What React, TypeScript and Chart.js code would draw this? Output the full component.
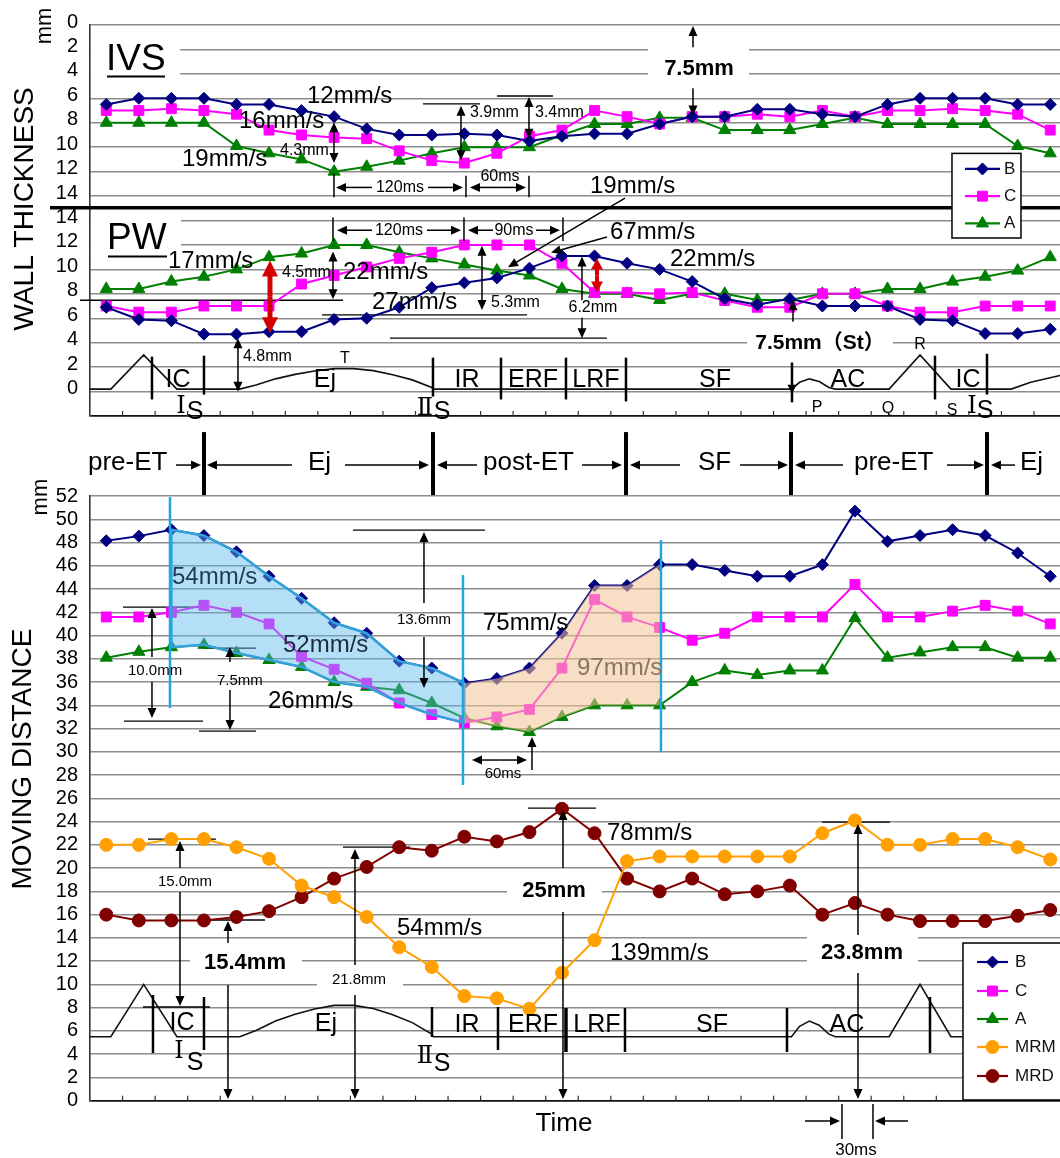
import React, { useEffect, useRef } from "react";
import { Chart, registerables } from "chart.js";
import { drawPoint } from "chart.js/helpers";
Chart.register(...registerables);

const FONT = '"Liberation Sans", Arial, Helvetica, sans-serif';
const FONT_CJK = '"Liberation Sans", "Noto Sans CJK JP", Arial, sans-serif';
const FONT_ROMAN = '"DejaVu Serif", "DejaVu Sans", serif';

// sample index along the cardiac cycle
const timeIdx = [0, 1, 2, 3, 4, 5, 6, 7, 8, 9, 10, 11, 12, 13, 14, 15, 16, 17, 18, 19, 20, 21, 22, 23, 24, 25, 26, 27, 28, 29];

// WALL THICKNESS (mm) – IVS
const ivsB = [6.5, 6, 6, 6, 6.5, 6.5, 7, 7.5, 8.5, 9, 9, 8.9, 9, 9.5, 9.1, 8.9, 8.9, 8.1, 7.5, 7.5, 6.9, 6.9, 7.3, 7.5, 6.5, 6, 6, 6, 6.5, 6.5];
const ivsC = [7.0, 7.0, 6.85, 7.0, 7.3, 8.6, 9.0, 9.2, 9.3, 10.3, 11.1, 11.3, 10.5, 9.1, 8.6, 7.0, 7.5, 8.1, 7.5, 7.5, 7.3, 7.5, 7.0, 7.5, 7.0, 7.0, 6.85, 7.0, 7.3, 8.6];
const ivsA = [8, 8, 8, 8, 9.9, 10.5, 11, 12, 11.6, 11.1, 10.5, 10, 10, 10, 9, 8.1, 8.1, 7.6, 7.6, 8.6, 8.6, 8.6, 8.1, 7.6, 8.1, 8.1, 8.1, 8.1, 9.9, 10.5];
// WALL THICKNESS (mm) – PW
const pwB = [6.9, 5.9, 5.8, 4.7, 4.7, 4.9, 4.9, 5.9, 6.0, 6.9, 8.5, 8.9, 9.3, 10.1, 11.1, 11.1, 10.5, 10.0, 9.0, 7.6, 7.1, 7.6, 7.0, 7.0, 7.0, 5.9, 5.8, 4.75, 4.75, 5.1];
const pwC = [7.0, 6.5, 6.5, 7.0, 7.0, 7.0, 8.8, 9.5, 10.2, 10.9, 11.4, 12.0, 12.0, 12.0, 10.5, 8.1, 8.1, 8.0, 8.1, 7.45, 6.9, 6.9, 8.0, 8.0, 7.0, 6.5, 6.5, 7.0, 7.0, 7.0];
const pwA = [8.4, 8.4, 9.0, 9.4, 10.0, 11.0, 11.3, 12.0, 12.0, 11.4, 10.9, 10.4, 9.9, 9.5, 8.4, 8.0, 8.0, 7.5, 8.0, 8.0, 7.5, 7.5, 8.0, 8.0, 8.4, 8.4, 9.0, 9.4, 9.9, 11.0];

// MOVING DISTANCE (mm)
const mdB = [48.15, 48.55, 49.1, 48.6, 47.2, 45.1, 43.2, 41.1, 40.2, 37.8, 37.2, 35.9, 36.3, 37.2, 40.2, 44.3, 44.3, 46.1, 46.1, 45.6, 45.1, 45.1, 46.1, 50.7, 48.1, 48.6, 49.1, 48.6, 47.1, 45.1];
const mdC = [41.6, 41.6, 42.0, 42.6, 42.0, 41.0, 38.2, 37.1, 35.9, 34.2, 33.2, 32.5, 33.0, 33.65, 37.2, 43.1, 41.6, 40.7, 39.6, 40.2, 41.6, 41.6, 41.6, 44.4, 41.6, 41.6, 42.1, 42.6, 42.1, 41.0];
const mdA = [38.1, 38.6, 39.0, 39.2, 38.5, 37.9, 37.3, 36.0, 35.6, 35.3, 34.2, 32.9, 32.2, 31.7, 33.0, 34.0, 34.0, 34.0, 36.0, 37.0, 36.6, 37.0, 37.0, 41.5, 38.1, 38.55, 39.0, 39.0, 38.1, 38.1];
const mrm = [22.0, 22.0, 22.5, 22.5, 21.8, 20.8, 18.5, 17.5, 15.8, 13.2, 11.5, 9.0, 8.8, 7.9, 11.0, 13.8, 20.6, 21.0, 21.0, 21.0, 21.0, 21.0, 23.0, 24.1, 22.0, 22.0, 22.5, 22.5, 21.8, 20.75];
const mrd = [16.0, 15.5, 15.5, 15.5, 15.8, 16.3, 17.5, 19.1, 20.1, 21.8, 21.5, 22.7, 22.3, 23.1, 25.1, 23.0, 19.1, 18.0, 19.1, 17.75, 18.0, 18.5, 16.0, 17.0, 16.0, 15.45, 15.45, 15.45, 15.9, 16.4];

// ECG schematic (position in sample units, relative amplitude R = 1)
const ecgPos = [-0.5, 0.14, 1.15, 2.17, 4.1, 4.6, 5.2, 5.8, 6.4, 7.0, 7.6, 8.2, 8.8, 9.4, 10.0, 10.05, 21.05, 21.3, 21.6, 21.9, 22.2, 22.4, 24.05, 25.0, 25.95, 27.8, 28.4, 29.0, 29.3];
const ecgAmp = [0, 0, 1, 0, 0, 0.12, 0.3, 0.43, 0.53, 0.6, 0.6, 0.54, 0.42, 0.27, 0.05, 0, 0, 0.2, 0.3, 0.22, 0.05, 0, 0, 1, 0, 0, 0.2, 0.33, 0.4];

const COLORS = { B: "#000080", C: "#ff00ff", A: "#008000", MRM: "#ffa000", MRD: "#800000" };
const STYLE: any = {
  B: { pointStyle: "rectRot", r: 6 },
  C: { pointStyle: "rect", r: 7 },
  A: { pointStyle: "triangle", r: 7 },
  MRM: { pointStyle: "circle", r: 6.5 },
  MRD: { pointStyle: "circle", r: 6.5 },
};

function series(name: string, vals: number[], map: (v: number) => number) {
  const c = (COLORS as any)[name];
  return {
    label: name,
    data: vals.map((v, i) => ({ x: timeIdx[i], y: map(v) })),
    borderColor: c,
    backgroundColor: c,
    borderWidth: 2,
    pointStyle: STYLE[name].pointStyle,
    pointRadius: STYLE[name].r,
    pointBorderWidth: 1,
    tension: 0,
  };
}

function ecgSet(base: number, amp: number) {
  return {
    label: "ECG",
    data: ecgPos.map((x, i) => ({ x, y: base + amp * ecgAmp[i] })),
    borderColor: "#111",
    borderWidth: 1.6,
    pointRadius: 0,
    tension: 0,
  };
}

function tools(chart: any, invY: (y: number) => number) {
  const ctx: CanvasRenderingContext2D = chart.ctx;
  const xs = chart.scales.x;
  const ys = chart.scales.y;
  const X = (x: number) => xs.getPixelForValue((x - 106.3) / 32.55);
  const Y = (y: number) => ys.getPixelForValue(invY(y));
  const font = (size: number, bold = false, fam = FONT) => `${bold ? "bold " : ""}${size}px ${fam}`;
  function line(x1: number, y1: number, x2: number, y2: number, w = 1.3, c = "#000") {
    ctx.save();
    ctx.strokeStyle = c;
    ctx.lineWidth = w;
    ctx.beginPath();
    ctx.moveTo(X(x1), Y(y1));
    ctx.lineTo(X(x2), Y(y2));
    ctx.stroke();
    ctx.restore();
  }
  function arrow(x1: number, y1: number, x2: number, y2: number, w = 1.5, c = "#000", len = 10, wid = 4.5) {
    const ax = X(x1), ay = Y(y1), bx = X(x2), by = Y(y2);
    const ang = Math.atan2(by - ay, bx - ax);
    const cx = Math.cos(ang), sy = Math.sin(ang);
    ctx.save();
    ctx.strokeStyle = c;
    ctx.fillStyle = c;
    ctx.lineWidth = w;
    ctx.beginPath();
    ctx.moveTo(ax, ay);
    ctx.lineTo(bx - cx * len * 0.8, by - sy * len * 0.8);
    ctx.stroke();
    ctx.beginPath();
    ctx.moveTo(bx, by);
    ctx.lineTo(bx - cx * len + sy * wid, by - sy * len - cx * wid);
    ctx.lineTo(bx - cx * len - sy * wid, by - sy * len + cx * wid);
    ctx.closePath();
    ctx.fill();
    ctx.restore();
  }
  function dbl(x1: number, y1: number, x2: number, y2: number, w = 1.5, c = "#000", len = 10, wid = 4.5) {
    const mx = (x1 + x2) / 2, my = (y1 + y2) / 2;
    arrow(mx, my, x1, y1, w, c, len, wid);
    arrow(mx, my, x2, y2, w, c, len, wid);
  }
  function text(s: string, x: number, y: number, size: number, opt: any = {}) {
    ctx.save();
    ctx.font = font(size, !!opt.bold, opt.fam || FONT);
    ctx.fillStyle = opt.color || "#000";
    ctx.textAlign = opt.align || "left";
    ctx.textBaseline = "middle";
    ctx.fillText(s, X(x), Y(y));
    ctx.restore();
  }
  function white(x: number, y: number, w: number, h: number) {
    ctx.save();
    ctx.fillStyle = "#fff";
    ctx.fillRect(X(x), Y(y), X(x + w) - X(x), Y(y + h) - Y(y));
    ctx.restore();
  }
  function rot(s: string, x: number, y: number, size: number) {
    ctx.save();
    ctx.translate(X(x), Y(y));
    ctx.rotate(-Math.PI / 2);
    ctx.font = font(size);
    ctx.fillStyle = "#000";
    ctx.textAlign = "center";
    ctx.textBaseline = "middle";
    ctx.fillText(s, 0, 0);
    ctx.restore();
  }
  function legend(x0: number, y0: number, x1: number, y1: number, names: string[], rows: number[], lx1: number, lx2: number, tx: number, size: number) {
    ctx.save();
    ctx.fillStyle = "#fff";
    ctx.fillRect(X(x0), Y(y0), X(x1) - X(x0), Y(y1) - Y(y0));
    ctx.strokeStyle = "#000";
    ctx.lineWidth = 1.5;
    ctx.strokeRect(X(x0), Y(y0), X(x1) - X(x0), Y(y1) - Y(y0));
    names.forEach((n, k) => {
      const c = (COLORS as any)[n];
      const yy = Y(rows[k]);
      ctx.strokeStyle = c;
      ctx.fillStyle = c;
      ctx.lineWidth = 2.2;
      ctx.beginPath();
      ctx.moveTo(X(lx1), yy);
      ctx.lineTo(X(lx2), yy);
      ctx.stroke();
      ctx.lineWidth = 1;
      drawPoint(ctx, { pointStyle: STYLE[n].pointStyle, radius: STYLE[n].r, rotation: 0, borderWidth: 1 } as any, X((lx1 + lx2) / 2), yy);
      ctx.fillStyle = "#111";
      ctx.font = font(size);
      ctx.textAlign = "left";
      ctx.textBaseline = "middle";
      ctx.fillText(n, X(tx), yy);
    });
    ctx.restore();
  }
  function ticks(yAxis: number) {
    for (let k = 0; k < 29; k++) {
      const xp = xs.getPixelForValue(k + 0.5);
      ctx.save();
      ctx.strokeStyle = "#333";
      ctx.lineWidth = 1.2;
      ctx.beginPath();
      ctx.moveTo(xp, Y(yAxis));
      ctx.lineTo(xp, Y(yAxis) - 5);
      ctx.stroke();
      ctx.restore();
    }
  }
  return { ctx, xs, ys, X, Y, line, arrow, dbl, text, white, rot, legend, ticks };
}

const topInv = (y: number) => (427 - y) / 12.5625;
const botInv = (y: number) => (1100.7 - y) / 11.63;

const topPlugin = {
  id: "topAnno",
  beforeDatasetsDraw(chart: any) {
    const t = tools(chart, topInv);
    t.white(91, 38, 89, 49);
    t.white(91, 216, 90, 48);
    t.white(648, 38, 101, 50);
    t.white(747, 341, 146, 22);
    t.line(80, 308, 343, 308);
    t.line(322, 323, 527, 323);
    t.line(390, 347, 607, 347);
    t.line(423, 106, 480, 106);
    t.line(497, 98, 553, 98);
    t.line(50, 213, 1060, 213, 3.5);
    t.ticks(427);
  },
  afterDatasetsDraw(chart: any) {
    const t = tools(chart, topInv);
    // titles
    t.rot("WALL THICKNESS", 25, 214, 28);
    t.rot("mm", 45, 26, 22);
    t.text("IVS", 106, 61, 37);
    t.line(107, 78, 165, 78, 2);
    t.text("PW", 107, 245, 37);
    t.line(108, 263, 167, 263, 2);

    // IVS annotations
    t.text("12mm/s", 307, 98, 24);
    t.text("16mm/s", 239, 124, 24);
    t.text("19mm/s", 182, 163, 24);
    t.text("4.3mm", 280, 154, 16);
    t.dbl(334, 125, 334, 167);
    t.line(334, 178, 334, 202, 1.5);
    t.line(466, 180, 466, 202, 1.5);
    t.line(529, 180, 529, 202, 1.5);
    t.arrow(372, 192, 336, 192);
    t.arrow(428, 192, 463, 192);
    t.text("120ms", 400, 192, 16, { align: "center" });
    t.dbl(470, 192, 526, 192);
    t.text("60ms", 500, 181, 16, { align: "center" });
    t.dbl(461, 108, 461, 164);
    t.text("3.9mm", 470, 115, 16);
    t.dbl(529, 99, 529, 142);
    t.text("3.4mm", 535, 115, 16);
    t.text("7.5mm", 699, 70, 22, { bold: true, align: "center" });
    t.arrow(693, 48, 693, 26);
    t.arrow(693, 90, 693, 118);

    // PW annotations
    t.text("17mm/s", 168, 268, 24);
    t.text("22mm/s", 343, 279, 24);
    t.text("27mm/s", 372, 310, 24);
    t.text("4.5mm", 282, 280, 16);
    t.dbl(333, 258, 333, 307);
    t.line(333, 223, 333, 247, 1.5);
    t.line(464, 223, 464, 247, 1.5);
    t.line(563, 223, 563, 247, 1.5);
    t.arrow(372, 236, 337, 236);
    t.arrow(427, 236, 461, 236);
    t.text("120ms", 399, 236, 16, { align: "center" });
    t.arrow(493, 236, 468, 236);
    t.arrow(536, 236, 560, 236);
    t.text("90ms", 514, 236, 16, { align: "center" });
    t.text("19mm/s", 590, 191, 24);
    t.arrow(625, 203, 508, 274);
    t.text("67mm/s", 610, 238, 24);
    t.arrow(607, 243, 551, 259);
    t.text("22mm/s", 670, 266, 24);
    t.dbl(482, 252, 482, 318);
    t.text("5.3mm", 491, 310, 16);
    t.arrow(582, 308, 582, 263);
    t.arrow(582, 326, 582, 347);
    t.text("6.2mm", 593, 316, 16, { align: "center" });
    t.dbl(238, 347, 238, 402);
    t.text("4.8mm", 243, 366, 16);
    t.arrow(793, 330, 793, 308);
    t.text("7.5mm（St）", 820, 352, 21, { bold: true, align: "center", fam: FONT_CJK });
    t.dbl(270, 267, 270, 342, 5, "#d40000", 16, 8);
    t.dbl(597, 265, 597, 300, 4, "#d40000", 11, 6);

    // ECG phase marks
    const bars: number[][] = [[152, 366, 410], [204, 365, 405], [433, 367, 407], [501, 367, 410], [566, 367, 410], [626, 367, 412], [792, 372, 413], [935, 365, 410], [987, 363, 405]];
    bars.forEach((b) => t.line(b[0], b[1], b[0], b[2], 2.5));
    t.arrow(792, 385, 792, 404, 1, "#000", 9, 4.5);
    t.text("IC", 178, 390, 25, { align: "center" });
    t.text("Ej", 325, 390, 25, { align: "center" });
    t.text("IR", 467, 390, 25, { align: "center" });
    t.text("ERF", 533, 390, 25, { align: "center" });
    t.text("LRF", 596, 390, 25, { align: "center" });
    t.text("SF", 715, 390, 25, { align: "center" });
    t.text("AC", 848, 390, 25, { align: "center" });
    t.text("IC", 968, 390, 25, { align: "center" });
    t.text("T", 345, 368, 16, { align: "center" });
    t.text("R", 920, 354, 16, { align: "center" });
    t.text("P", 817, 418, 16, { align: "center" });
    t.text("Q", 888, 419, 16, { align: "center" });
    t.text("S", 952, 421, 16, { align: "center" });
    t.text("Ⅰ", 181, 418, 24, { align: "center", fam: FONT_ROMAN });
    t.text("S", 195, 423, 25, { align: "center" });
    t.text("Ⅱ", 425, 420, 24, { align: "center", fam: FONT_ROMAN });
    t.text("S", 442, 423, 25, { align: "center" });
    t.text("Ⅰ", 972, 417, 24, { align: "center", fam: FONT_ROMAN });
    t.text("S", 985, 422, 25, { align: "center" });

    t.legend(952, 157, 1021, 244, ["B", "C", "A"], [173, 201, 229], 965, 1000, 1004, 17);
  },
};

const botPlugin = {
  id: "botAnno",
  beforeDatasetsDraw(chart: any) {
    const t = tools(chart, botInv);
    t.white(190, 950, 112, 24);
    t.white(317, 973, 86, 22);
    t.white(507, 880, 95, 22);
    t.white(807, 930, 111, 40);
    t.line(123, 607, 202, 607);
    t.line(124, 721, 203, 721);
    t.line(203, 648, 256, 648);
    t.line(199, 731, 256, 731);
    t.line(353, 530, 485, 530);
    t.line(148, 839, 216, 839);
    t.line(143, 1007, 210, 1007);
    t.line(203, 920, 265, 920);
    t.line(343, 847, 410, 847);
    t.line(528, 808, 596, 808);
    t.line(822, 822, 890, 822);
    t.ticks(1100.7);
  },
  afterDatasetsDraw(chart: any) {
    const t = tools(chart, botInv);
    const ctx = t.ctx;
    const XI = (i: number) => t.xs.getPixelForValue(i);
    const YV = (v: number) => t.ys.getPixelForValue(v);
    // shaded regions
    ctx.save();
    ctx.beginPath();
    for (let i = 2; i <= 11; i++) {
      if (i === 2) ctx.moveTo(XI(timeIdx[i]), YV(mdB[i]));
      else ctx.lineTo(XI(timeIdx[i]), YV(mdB[i]));
    }
    for (let i = 11; i >= 2; i--) ctx.lineTo(XI(timeIdx[i]), YV(Math.min(mdA[i], mdC[i])));
    ctx.closePath();
    ctx.fillStyle = "rgba(90,185,235,0.45)";
    ctx.fill();
    ctx.strokeStyle = "#33a2da";
    ctx.lineWidth = 2.5;
    ctx.lineJoin = "round";
    ctx.stroke();
    ctx.beginPath();
    for (let i = 11; i <= 17; i++) {
      if (i === 11) ctx.moveTo(XI(timeIdx[i]), YV(mdB[i]));
      else ctx.lineTo(XI(timeIdx[i]), YV(mdB[i]));
    }
    for (let i = 17; i >= 11; i--) ctx.lineTo(XI(timeIdx[i]), YV(Math.min(mdA[i], mdC[i])));
    ctx.closePath();
    ctx.fillStyle = "rgba(242,195,150,0.55)";
    ctx.fill();
    ctx.restore();
    t.line(170, 497, 170, 708, 2.5, "#1ea7e1");
    t.line(463, 575, 463, 785, 2.5, "#1ea7e1");
    t.line(661, 540, 661, 752, 2.5, "#1ea7e1");

    // titles and row of phases
    t.rot("MOVING DISTANCE", 23, 759, 28);
    t.rot("mm", 41, 497, 22);
    t.text("Time", 564, 1124, 26, { align: "center" });
    [204, 433, 626, 791, 987].forEach((x) => t.line(x, 432, x, 495, 4));
    t.text("pre-ET", 88, 463, 26);
    t.arrow(176, 465, 201, 465);
    t.arrow(292, 465, 207, 465);
    t.text("Ej", 308, 463, 26);
    t.arrow(345, 465, 429, 465);
    t.arrow(477, 465, 437, 465);
    t.text("post-ET", 483, 463, 26);
    t.arrow(582, 465, 622, 465);
    t.arrow(680, 465, 630, 465);
    t.text("SF", 698, 463, 26);
    t.arrow(740, 465, 788, 465);
    t.arrow(843, 465, 795, 465);
    t.text("pre-ET", 854, 463, 26);
    t.arrow(947, 465, 984, 465);
    t.arrow(1015, 465, 991, 465);
    t.text("Ej", 1020, 463, 26);

    // upper group annotations
    t.text("54mm/s", 172, 577, 24, { color: "#1c3b4f" });
    t.text("52mm/s", 283, 645, 24, { color: "#1c2b3a" });
    t.text("26mm/s", 268, 701, 24);
    t.text("10.0mm", 128, 671, 15);
    t.arrow(152, 657, 152, 608);
    t.arrow(152, 682, 152, 718);
    t.text("7.5mm", 217, 681, 15);
    t.arrow(230, 662, 230, 647);
    t.arrow(230, 690, 230, 730);
    t.text("13.6mm", 424, 620, 15, { align: "center" });
    t.arrow(424, 603, 424, 532);
    t.arrow(424, 637, 424, 688);
    t.text("75mm/s", 483, 623, 24);
    t.text("97mm/s", 577, 668, 24, { color: "#8a7560" });
    t.dbl(472, 760, 527, 760);
    t.arrow(532, 770, 532, 737);
    t.text("60ms", 503, 774, 15, { align: "center" });

    // lower group annotations
    t.text("15.0mm", 185, 882, 15, { align: "center" });
    t.arrow(180, 868, 180, 841);
    t.arrow(180, 892, 180, 1006);
    t.text("15.4mm", 245, 963, 22, { bold: true, align: "center" });
    t.arrow(228, 943, 228, 921);
    t.arrow(228, 985, 228, 1099);
    t.text("21.8mm", 359, 980, 15, { align: "center" });
    t.arrow(355, 965, 355, 849);
    t.arrow(355, 995, 355, 1099);
    t.text("54mm/s", 397, 928, 24);
    t.text("25mm", 554, 891, 22, { bold: true, align: "center" });
    t.arrow(563, 868, 563, 810);
    t.arrow(563, 912, 563, 1099);
    t.text("78mm/s", 607, 833, 24);
    t.text("139mm/s", 610, 953, 24);
    t.text("23.8mm", 862, 953, 22, { bold: true, align: "center" });
    t.arrow(858, 935, 858, 824);
    t.arrow(858, 973, 858, 1099);

    // ECG phase marks
    const bars: number[][] = [[153, 995, 1053], [204, 997, 1050], [432, 1007, 1037], [498, 1007, 1050], [566, 1008, 1052], [625, 1008, 1052], [787, 1008, 1052], [930, 997, 1053]];
    bars.forEach((b) => t.line(b[0], b[1], b[0], b[2], b[0] === 566 ? 3.5 : 2.5));
    t.text("IC", 182, 1023, 25, { align: "center" });
    t.text("Ej", 326, 1024, 25, { align: "center" });
    t.text("IR", 467, 1025, 25, { align: "center" });
    t.text("ERF", 533, 1025, 25, { align: "center" });
    t.text("LRF", 597, 1025, 25, { align: "center" });
    t.text("SF", 712, 1025, 25, { align: "center" });
    t.text("AC", 847, 1025, 25, { align: "center" });
    t.text("Ⅰ", 179, 1052, 24, { align: "center", fam: FONT_ROMAN });
    t.text("S", 195, 1063, 25, { align: "center" });
    t.text("Ⅱ", 425, 1057, 24, { align: "center", fam: FONT_ROMAN });
    t.text("S", 442, 1064, 25, { align: "center" });

    // 30 ms marker
    t.line(842, 1104, 842, 1139, 1.5);
    t.line(873, 1104, 873, 1139, 1.5);
    t.arrow(805, 1121, 840, 1121);
    t.arrow(908, 1121, 875, 1121);
    t.text("30ms", 856, 1150, 17, { align: "center" });

    t.legend(963, 943, 1066, 1100, ["B", "C", "A", "MRM", "MRD"], [962, 991, 1019, 1047, 1076], 977, 1008, 1015, 17);
  },
};

function yAxis(max: number, cb: (v: number) => string, labelOffset: number) {
  return {
    type: "linear",
    min: 0,
    max,
    afterFit: (s: any) => {
      s.width = 90;
    },
    ticks: {
      stepSize: 2,
      autoSkip: false,
      padding: 12,
      labelOffset,
      color: "#000",
      font: { family: FONT, size: 20 },
      callback: (v: any) => cb(Number(v)),
    },
    grid: {
      drawTicks: false,
      color: (c: any) => (c.tick && c.tick.value === 0 ? "#111" : "#8c8c8c"),
      lineWidth: (c: any) => (c.tick && c.tick.value === 0 ? 1.7 : 1.4),
    },
    border: { display: true, color: "#333", width: 1.6 },
  };
}

export default function App() {
  const topRef = useRef<HTMLCanvasElement>(null);
  const botRef = useRef<HTMLCanvasElement>(null);

  useEffect(() => {
    const ivs = (v: number) => 32 - v;
    const pw = (v: number) => v + 2;
    const common: any = {
      animation: false,
      responsive: false,
      events: [],
      plugins: { legend: { display: false }, tooltip: { enabled: false } },
    };
    const top = new Chart(topRef.current as HTMLCanvasElement, {
      type: "line",
      data: {
        datasets: [
          series("B", ivsB, ivs),
          series("C", ivsC, ivs),
          series("A", ivsA, ivs),
          series("B", pwB, pw),
          series("C", pwC, pw),
          series("A", pwA, pw),
          ecgSet(2.2, 2.8),
        ] as any,
      },
      options: {
        ...common,
        layout: { autoPadding: false, padding: { top: 25, bottom: 13, left: 0, right: 0 } },
        scales: {
          x: { type: "linear", min: -0.5, max: 29.3, display: false },
          y: yAxis(32, (v) => (v >= 18 ? String(32 - v) : v >= 2 && v <= 16 ? String(v - 2) : ""), -3),
        } as any,
      },
      plugins: [topPlugin as any],
    });
    const bot = new Chart(botRef.current as HTMLCanvasElement, {
      type: "line",
      data: {
        datasets: [
          series("B", mdB, (v) => v),
          series("C", mdC, (v) => v),
          series("A", mdA, (v) => v),
          series("MRM", mrm, (v) => v),
          series("MRD", mrd, (v) => v),
          ecgSet(5.5, 4.5),
        ] as any,
      },
      options: {
        ...common,
        layout: { autoPadding: false, padding: { top: 71, bottom: 57.3, left: 0, right: 0 } },
        scales: {
          x: { type: "linear", min: -0.5, max: 29.3, display: false },
          y: yAxis(52, (v) => String(v), 0),
        } as any,
      },
      plugins: [botPlugin as any],
    });
    return () => {
      top.destroy();
      bot.destroy();
    };
  }, []);

  return (
    <div style={{ position: "absolute", left: 0, top: 0, width: 1060, height: 1158, overflow: "hidden", background: "#fff" }}>
      <canvas ref={topRef} width={1060} height={440} style={{ position: "absolute", left: 0, top: 0, width: 1060, height: 440 }} />
      <canvas ref={botRef} width={1060} height={733} style={{ position: "absolute", left: 0, top: 425, width: 1060, height: 733 }} />
    </div>
  );
}
